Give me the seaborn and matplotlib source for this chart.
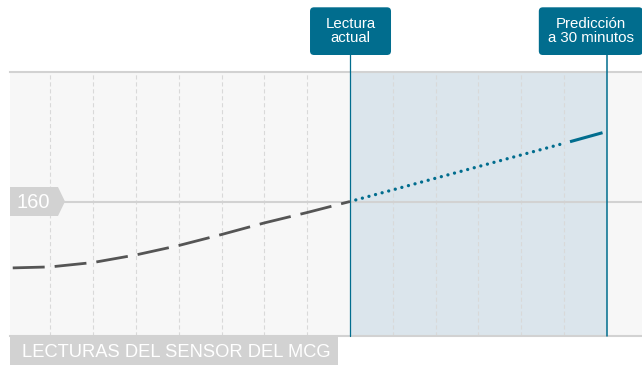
import seaborn as sns
import matplotlib.pyplot as plt
import matplotlib.patches as mpatches
from matplotlib.transforms import IdentityTransform
import pandas as pd

# -----------------------
# Data (minutes relative to current reading, mg/dL)
# -----------------------
history_min = [-39.4, -35, -30, -25, -20, -15, -10, -5, 0]
history_val = [126.8, 127.3, 129.5, 133.3, 138.0, 143.5, 149.3, 154.5, 160]

trend_min = [0, 25]
trend_val = [160, 189.1]

forecast_min = [25.7, 29.5]
forecast_val = [189.9, 194.4]

ref_value = 160
grid_min = [-35, -30, -25, -20, -15, -10, -5, 5, 10, 15, 20, 25]
now_min, pred_min = 0, 30

label_now = "Lectura\nactual"
label_pred = "Predicción\na 30 minutos"
label_axis = "LECTURAS DEL SENSOR DEL MCG"

hist = pd.DataFrame({"min": history_min, "val": history_val})
trend = pd.DataFrame({"min": trend_min, "val": trend_val})
fcst = pd.DataFrame({"min": forecast_min, "val": forecast_val})

# -----------------------
# Style
# -----------------------
sns.set_style("white")
plt.rcParams["font.family"] = ["Liberation Sans", "DejaVu Sans"]
plt.rcParams["lines.scale_dashes"] = False

BLUE = "#016d8e"
GREY_LINE = "#555555"
LIGHT = "#d2d2d2"

W, H = 642, 365
fig = plt.figure(figsize=(W / 100, H / 100), dpi=100)
ax = fig.add_axes([10 / W, 29 / H, 632 / W, 264 / H])
ax.set_facecolor("#f7f7f7")
ax.set_xlim(-39.72, 34.11)
ax.set_ylim(92.75, 224.75)

# grid and frame
ax.set_xticks(grid_min)
ax.set_yticks([])
ax.tick_params(length=0, labelbottom=False, labelleft=False)
ax.grid(axis="x", color="#d9d9d9", linestyle=(0, (3, 2)), linewidth=0.8)
ax.set_axisbelow(True)
for side in ["left", "right"]:
    ax.spines[side].set_visible(False)
for side in ["top", "bottom"]:
    ax.spines[side].set_color(LIGHT)
    ax.spines[side].set_linewidth(1.5)

# prediction window
ax.axvspan(now_min, pred_min, color="#dbe5ec", zorder=0.2, lw=0)
ax.axhline(ref_value, color=LIGHT, lw=1.5, zorder=1)
for xv, lw in [(now_min, 0.9), (pred_min, 1.1)]:
    ax.axvline(xv, ymin=0, ymax=1.09, color=BLUE, lw=lw, clip_on=False, zorder=3)

# lines
sns.lineplot(data=hist, x="min", y="val", ax=ax, color=GREY_LINE, lw=2.0,
             linestyle=(0, (23, 7.2)), dash_capstyle="butt", errorbar=None, zorder=4)
sns.lineplot(data=trend, x="min", y="val", ax=ax, color=BLUE, lw=2.4,
             linestyle=(0.6, (0.01, 4.9)), dash_capstyle="round", errorbar=None, zorder=4)
sns.lineplot(data=fcst, x="min", y="val", ax=ax, color=BLUE, lw=2.2,
             solid_capstyle="butt", errorbar=None, zorder=4)
ax.set_xlabel("")
ax.set_ylabel("")

# -----------------------
# Annotation boxes (display pixel coords, y from bottom)
# -----------------------
fig.canvas.draw()
x_now = ax.transData.transform((now_min, ref_value))[0]
x_pred, y_ref = ax.transData.transform((pred_min, ref_value))

box_y0, box_h = H - 55, 47.7
for xc, w, txt in [(x_now + 0.5, 81, label_now), (x_pred - 16, 104, label_pred)]:
    box = mpatches.FancyBboxPatch((xc - w / 2, box_y0), w, box_h,
                                  boxstyle="round,pad=0,rounding_size=4",
                                  transform=IdentityTransform(), facecolor=BLUE,
                                  edgecolor="none", clip_on=False)
    fig.patches.append(box)
    fig.text(xc / W, (box_y0 + box_h / 2 + 0.5) / H, txt, color="white", fontsize=10.8,
             ha="center", va="center", linespacing=1.0)

# 160 tag
tag = mpatches.Polygon([(10, y_ref - 14.5), (58, y_ref - 14.5), (65, y_ref),
                        (58, y_ref + 14.5), (10, y_ref + 14.5)], closed=True,
                       transform=IdentityTransform(), facecolor=LIGHT, edgecolor="none")
fig.patches.append(tag)
fig.text(16 / W, (y_ref - 7) / H, str(ref_value), color="white", fontsize=14.5,
         ha="left", va="baseline")

# bottom axis label
lab = mpatches.Rectangle((10, 0), 328, 30, transform=IdentityTransform(),
                         facecolor=LIGHT, edgecolor="none")
fig.patches.append(lab)
fig.text(22 / W, 8.3 / H, label_axis, color="white", fontsize=13.2,
         ha="left", va="baseline")

plt.savefig("out.png", dpi=100, pad_inches=0)
plt.close()
